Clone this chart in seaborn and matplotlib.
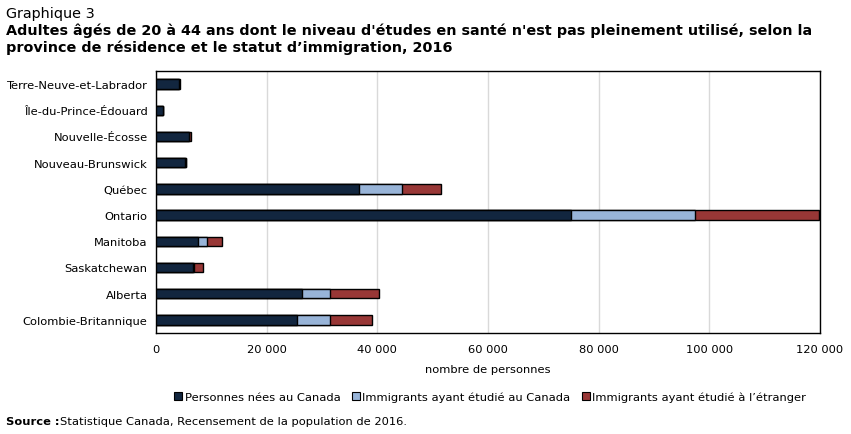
import matplotlib
matplotlib.use('Agg')
import matplotlib.pyplot as plt
import seaborn as sns
import pandas as pd
import numpy as np
from matplotlib.patches import Patch
from matplotlib.ticker import FuncFormatter

provinces = ['Terre-Neuve-et-Labrador', 'Île-du-Prince-Édouard', 'Nouvelle-Écosse',
             'Nouveau-Brunswick', 'Québec', 'Ontario', 'Manitoba', 'Saskatchewan',
             'Alberta', 'Colombie-Britannique']
nees_canada = [4100, 1200, 5900, 5300, 36750, 74950, 7500, 6650, 26300, 25400]
immig_canada = [50, 0, 100, 50, 7750, 22500, 1650, 300, 5200, 6100]
immig_etranger = [150, 0, 400, 100, 6950, 22450, 2850, 1600, 8850, 7450]

series = ['Personnes nées au Canada', 'Immigrants ayant étudié au Canada',
          "Immigrants ayant étudié à l’étranger"]
colors = ['#12263f', '#98b4d8', '#983736']

df = pd.DataFrame({'province': provinces, 'c1': nees_canada,
                   'c2': immig_canada, 'c3': immig_etranger})
df['s1'] = df['c1']
df['s2'] = df['c1'] + df['c2']
df['s3'] = df['s2'] + df['c3']

sns.set_style('white')
plt.rcParams['font.family'] = ['DejaVu Sans']
plt.rcParams['text.color'] = 'black'

fs = 8.25
fig = plt.figure(figsize=(8.51, 4.35), dpi=100)
ax = fig.add_axes([156 / 851, 1 - 334 / 435, 664 / 851, 262 / 435])

# stacked bars: draw cumulative totals from largest to smallest
for col, color in zip(['s3', 's2', 's1'], colors[::-1]):
    sns.barplot(data=df, x=col, y='province', color=color, orient='h', saturation=1,
                width=0.36, edgecolor='black', linewidth=1, ax=ax, zorder=3)

ax.set_xlim(0, 120000)
ax.set_xticks(np.arange(0, 120001, 20000))
ax.xaxis.set_major_formatter(FuncFormatter(lambda v, p: f'{int(v):,}'.replace(',', ' ')))
ax.grid(axis='x', color='#d9d9d9', linewidth=1, zorder=0)
ax.set_axisbelow(True)
for s in ax.spines.values():
    s.set_color('black')
    s.set_linewidth(1)
ax.tick_params(axis='both', length=0, labelsize=fs, colors='black', pad=6)
ax.tick_params(axis='x', pad=8)
ax.set_ylabel('')
ax.set_xlabel('nombre de personnes', fontsize=fs, labelpad=7, color='black')

handles = [Patch(facecolor=c, edgecolor='black', linewidth=0.8) for c in colors]
fig.legend(handles, series, loc='center', bbox_to_anchor=(490 / 851, 1 - 398 / 435),
           ncol=3, frameon=False, fontsize=fs, handlelength=0.7, handleheight=0.7,
           handletextpad=0.2, columnspacing=1.0)

fig.text(6 / 851, 1 - 14 / 435, 'Graphique 3', fontsize=10.35, va='center')
fig.text(6 / 851, 1 - 31 / 435,
         "Adultes âgés de 20 à 44 ans dont le niveau d'études en santé n'est pas pleinement utilisé, selon la",
         fontsize=10.35, fontweight='bold', va='center')
fig.text(6 / 851, 1 - 48 / 435,
         "province de résidence et le statut d’immigration, 2016",
         fontsize=10.35, fontweight='bold', va='center')
fig.text(6 / 851, 1 - 422 / 435, 'Source :', fontsize=fs, fontweight='bold', va='center')
fig.text(60 / 851, 1 - 422 / 435, 'Statistique Canada, Recensement de la population de 2016.',
         fontsize=fs, va='center')

fig.savefig('out.png', dpi=100)
